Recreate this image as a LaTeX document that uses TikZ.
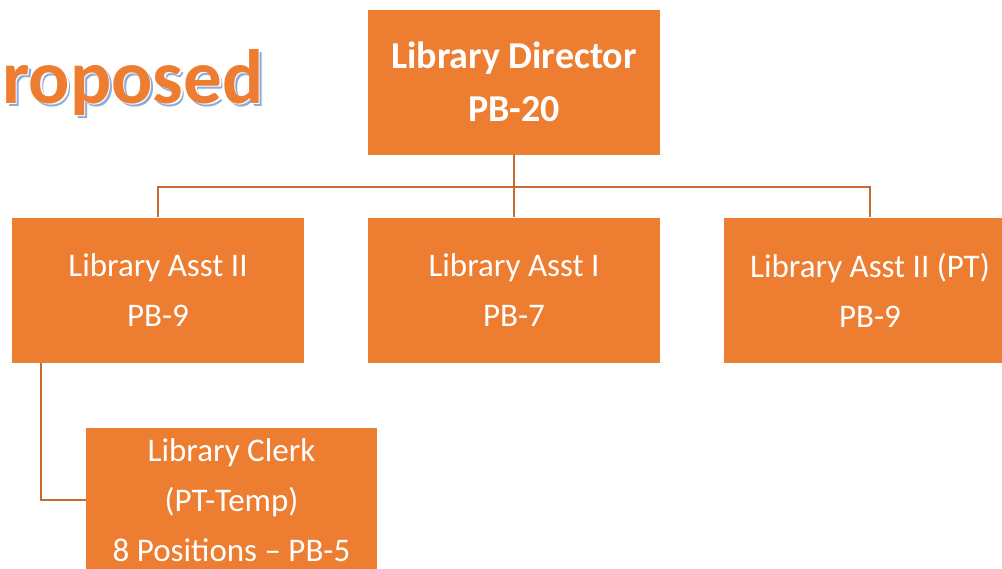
\documentclass[tikz,border=0pt]{standalone}
\usepackage{fontspec}
\setmainfont{Carlito}
\usepackage{tikz}
\usetikzlibrary{positioning}
\definecolor{boxorange}{RGB}{237,125,49}
\definecolor{linkbrown}{RGB}{196,108,50}
\definecolor{shadowblue}{RGB}{142,170,219}

\tikzset{
  post/.style={fill=boxorange, text=white, inner sep=0pt, align=center,
    minimum width=292pt, minimum height=145pt,
    font=\fontsize{33}{50}\selectfont},
  link/.style={draw=linkbrown, line width=2pt},
  headline/.style={anchor=base west, inner sep=0pt, font=\fontsize{77}{77}\selectfont\bfseries},
}

\begin{document}
\begin{tikzpicture}[x=1pt, y=-1pt]
    \useasboundingbox (0,0) rectangle (1002,568);
    % title, shadow first
    \node[headline, text=shadowblue] (titleshadow) at (5,106) {roposed};
    \node[headline, text=white] (titleedge) at (3.5,104.5) {roposed};
    \node[headline, text=boxorange] (title) at (2,103) {roposed};
    % boxes
    \node[post, font=\fontsize{38}{53}\selectfont\bfseries] (dir) at (514,82) {Library Director\\PB-20};
    \node[post] (asst2) at (158,290) {Library Asst II\\PB-9};
    \node[post] (asst1) at (514,290) {Library Asst I\\PB-7};
    \node[post] (asst2pt) at (870,290) {Library Asst II (PT)\\PB-9};
    \node[post, minimum width=291pt] (clerk) at (231.5,500) {Library Clerk\\(PT-Temp)\\8 Positions -- PB-5};
    % connectors
    \coordinate (bus) at (514,187);
    \draw[link] (dir.south) -- (bus);
    \draw[link] (asst2.north) |- (bus) -| (asst2pt.north);
    \draw[link] (bus) -- (asst1.north);
    \draw[link] ([xshift=29pt]asst2.south west) |- (clerk.west);
\end{tikzpicture}
\end{document}
